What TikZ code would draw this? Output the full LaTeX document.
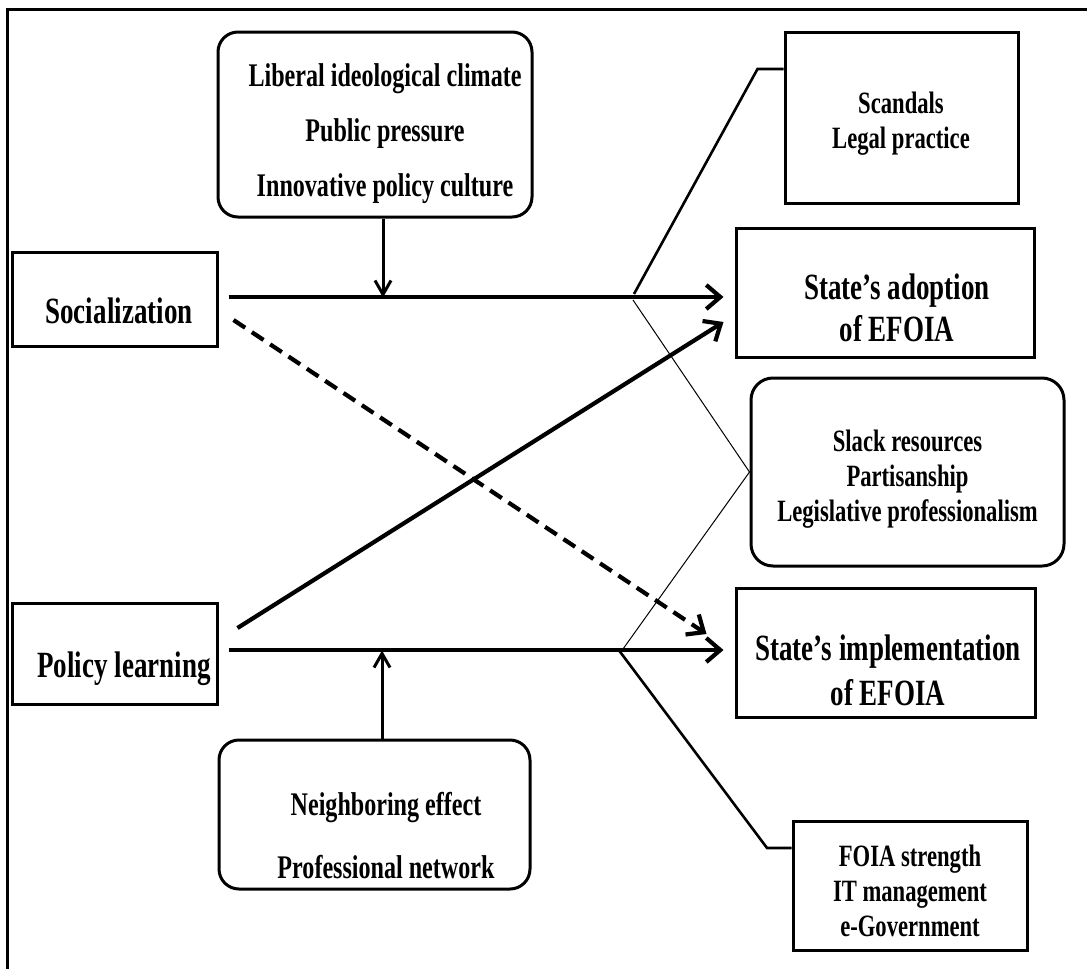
\documentclass[tikz,border=0pt]{standalone}
\usepackage{fontspec}
\setmainfont[FakeStretch=0.73]{Liberation Serif}
\usetikzlibrary{arrows.meta,calc}
\begin{document}
\begin{tikzpicture}[x=0.5pt,y=-0.5pt,
  box/.style={draw,line width=1.5pt,inner sep=0pt},
  rbox/.style={box,rounded corners=10pt},
  big/.style={font=\fontsize{18.5}{21}\selectfont\bfseries,align=center,inner sep=0pt},
  mid/.style={font=\fontsize{16.5}{27.5}\selectfont\bfseries,align=center,inner sep=0pt},
  sml/.style={font=\fontsize{15.5}{17.5}\selectfont\bfseries,align=center,inner sep=0pt},
  arr/.style={line width=2.1pt,-{Straight Barb[length=7pt,width=12pt]}},
  modarr/.style={line width=1.5pt,-{Straight Barb[length=7pt,width=8pt]}},
  med/.style={line width=1.3pt},
  thin/.style={line width=0.5pt}]
\useasboundingbox (0,0) rectangle (1087,969);
% frame
\draw[line width=1.5pt] (7,969) -- (7,9) -- (1087,9);
% boxes
\node[box,minimum width=102.5pt,minimum height=47pt] (soc) at (114.5,299) {};
\node[big] (soct) at (119,311) {Socialization};
\node[box,minimum width=102.5pt,minimum height=50.5pt] (pol) at (114.5,653.5) {};
\node[big] (polt) at (124,669) {Policy learning};
\node[rbox,minimum width=157pt,minimum height=92.5pt] (lib) at (375,124.5) {};
\node[mid] (libt) at (385,134) {Liberal ideological climate\\Public pressure\\Innovative policy culture};
\node[rbox,minimum width=155.5pt,minimum height=74.5pt] (nei) at (374.5,814.5) {};
\node[mid,font=\fontsize{16.5}{31.5}\selectfont\bfseries] (neit) at (386,836) {Neighboring effect\\Professional network};
\node[box,minimum width=116.5pt,minimum height=85.5pt] (scan) at (901.5,117.5) {};
\node[sml] (scant) at (901,124) {Scandals\\Legal practice};
\node[box,minimum width=149pt,minimum height=64.5pt] (adopt) at (885,292.5) {};
\node[big] (adoptt) at (897,308) {State’s adoption\\of EFOIA};
\node[rbox,rounded corners=11pt,minimum width=156.5pt,minimum height=94pt] (slack) at (907.5,472) {};
\node[sml] (slackt) at (907.5,479) {Slack resources\\Partisanship\\Legislative professionalism};
\node[box,minimum width=149.5pt,minimum height=64.5pt] (impl) at (885.5,652.5) {};
\node[big,font=\fontsize{18.5}{22.5}\selectfont\bfseries] (implt) at (888,670) {State’s implementation\\of EFOIA};
\node[box,minimum width=117pt,minimum height=64.5pt] (foia) at (910,885.5) {};
\node[sml] (foiat) at (910,891) {FOIA strength\\IT management\\e-Government};
% main arrows
\draw[arr] ($(soc.east)+(10,-2)$) -- ($(adopt.west)+(-11,4.5)$);
\draw[arr] ($(pol.east)+(19,-25.5)$) -- ($(adopt.west)+(-11,29.5)$);
\draw[arr,dash pattern=on 7pt off 4pt] ($(soc.east)+(15,21)$) -- ($(impl.west)+(-28,-18.5)$);
\draw[arr] ($(pol.east)+(10,-3.5)$) -- ($(impl.west)+(-11,-2.5)$);
% moderators
\draw[modarr] ($(lib.south)+(8,0)$) -- ($(lib.south)+(8,79)$);
\draw[modarr] ($(nei.north)+(7.5,0)$) -- ($(nei.north)+(7.5,-88)$);
% mediators
\coordinate (j1) at (634,294);
\coordinate (j2) at (633,300);
\coordinate (j3) at (623,649);
\coordinate (j4) at (618,649);
\draw[med] ($(scan.west)+(0,-48.5)$) -- ++(-26,0) -- (j1);
\draw[med] (j4) -- (767,848) -- ($(foia.west)+(0,-37.5)$);
\draw[thin] (j2) -- (slack.west) -- (j3);
\end{tikzpicture}
\end{document}
